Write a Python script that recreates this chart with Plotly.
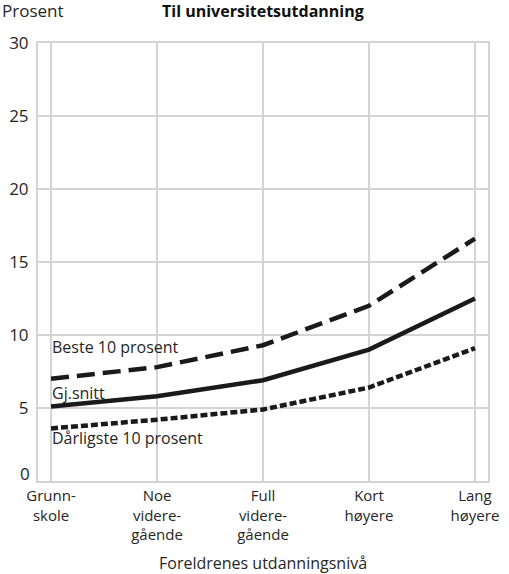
import plotly.graph_objects as go

# Parents' education level (x categories)
categories = ["Grunn-<br>skole", "Noe<br>videre-<br>gående", "Full<br>videre-<br>gående",
              "Kort<br>høyere", "Lang<br>høyere"]
# Share going on to university education, in percent
beste = [7.0, 7.8, 9.3, 12.0, 16.6]
snitt = [5.1, 5.8, 6.9, 9.0, 12.5]
darligste = [3.6, 4.2, 4.9, 6.4, 9.1]
y_ticks = [0, 5, 10, 15, 20, 25, 30]

FONT = "Open Sans, Noto Sans, sans-serif"
GRID = "#d4d4d4"
TXT = "#262626"
x = list(range(len(categories)))

fig = go.Figure()
fig.add_trace(go.Scatter(x=x, y=beste, mode="lines",
                         line=dict(color="#1a1a1a", width=4.5, dash="18px,8px")))
fig.add_trace(go.Scatter(x=x, y=snitt, mode="lines",
                         line=dict(color="#1a1a1a", width=4.5)))
fig.add_trace(go.Scatter(x=x, y=darligste, mode="lines",
                         line=dict(color="#1a1a1a", width=4.5, dash="7px,3px")))

# Series labels written just above the left end of each line
for text, yv in [("Beste 10 prosent", 9.15), ("Gj.snitt", 6.0), ("Dårligste 10 prosent", 2.95)]:
    fig.add_annotation(x=0, y=yv, xref="x", yref="y", text=text, showarrow=False,
                       xanchor="left", yanchor="middle", xshift=-1,
                       font=dict(family=FONT, size=16, color=TXT))

# The zero label sits a little above the baseline, clear of the first category label
fig.add_annotation(x=0, y=y_ticks[0], xref="paper", yref="y", text=str(y_ticks[0]),
                   showarrow=False, xanchor="right", yanchor="bottom", xshift=-6, yshift=-6,
                   font=dict(family=FONT, size=17, color=TXT))

fig.add_annotation(x=0, y=1, xref="paper", yref="paper", text="Prosent", showarrow=False,
                   xanchor="left", yanchor="bottom", xshift=-38, yshift=19,
                   font=dict(family=FONT, size=17, color=TXT))
fig.add_annotation(x=0.5, y=1, xref="paper", yref="paper", text="<b>Til universitetsutdanning</b>",
                   showarrow=False, xanchor="center", yanchor="bottom", yshift=19,
                   font=dict(family=FONT, size=16, color="#111"))
fig.add_annotation(x=0.5, y=0, xref="paper", yref="paper", text="Foreldrenes utdanningsnivå",
                   showarrow=False, xanchor="center", yanchor="middle", yshift=-82,
                   font=dict(family=FONT, size=16, color=TXT))

fig.update_layout(
    width=509, height=574,
    margin=dict(l=38, r=21, t=43, b=93),
    paper_bgcolor="white", plot_bgcolor="white",
    showlegend=False,
    font=dict(family=FONT, size=16, color=TXT),
    xaxis=dict(range=[-0.123, 4.123], tickvals=x, ticktext=categories,
               showgrid=True, gridcolor=GRID, gridwidth=2,
               showline=True, linecolor=GRID, linewidth=2, mirror=True,
               zeroline=False, ticks="", automargin=False,
               tickfont=dict(size=15, color=TXT)),
    yaxis=dict(range=[0, 30], tickvals=y_ticks,
               ticktext=[""] + [str(v) for v in y_ticks[1:]],
               showgrid=True, gridcolor=GRID, gridwidth=2,
               showline=True, linecolor=GRID, linewidth=2, mirror=True,
               zeroline=False, ticks="", ticklabelstandoff=4, automargin=False,
               tickfont=dict(size=17, color=TXT)),
)

fig.write_html("out.html")
